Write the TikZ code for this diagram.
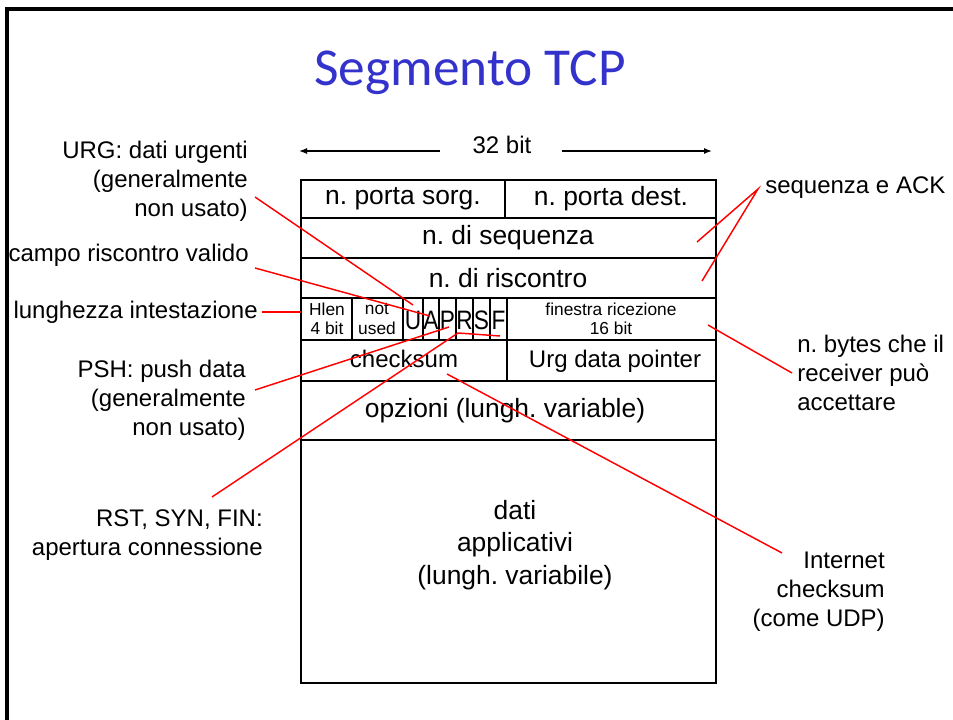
\documentclass[tikz,border=0pt]{standalone}
\usepackage{fontspec}
\setmainfont{Liberation Sans}
\newfontfamily\titlefont{Carlito}
\usetikzlibrary{arrows.meta}
\definecolor{titleblue}{RGB}{51,51,204}
\frenchspacing
\begin{document}
\begin{tikzpicture}[x=0.75pt,y=-0.75pt,
  cell/.style={draw=black,line width=1.5pt},
  lbl/.style={font=\fontsize{18}{21.6}\selectfont,inner sep=0pt},
  big/.style={font=\fontsize{19.8}{23.8}\selectfont,inner sep=0pt},
  small/.style={font=\fontsize{13}{14.3}\selectfont,inner sep=0pt,align=center},
  flag/.style={font=\fontsize{20}{24}\selectfont,inner sep=0pt,xscale=0.85},
  pointer/.style={draw=red,line width=1.1pt},
  dimarrow/.style={line width=1pt,-{Latex[length=6pt,width=4.5pt]}},
]
\useasboundingbox (0,0) rectangle (953,720);
\draw[line width=2.4pt] (7,720) -- (7,9) -- (953,9);

% title
\node[font=\titlefont\fontsize{40}{48}\selectfont, text=titleblue, anchor=base, inner sep=0pt] (title) at (470,86) {Segmento TCP};

% 32 bit
\node[lbl] (bits) at (502,145) {32 bit};
\coordinate (lstart) at (440,151);
\coordinate (lend) at (299,151);
\coordinate (rstart) at (562,151);
\coordinate (rend) at (712,151);
\draw[dimarrow] (lstart) -- (lend);
\draw[dimarrow] (rstart) -- (rend);

% table grid
\draw[cell] (301,180) rectangle (716,683);
\foreach \yy in {218,258,298,340,381,440} \draw[cell] (301,\yy) -- (716,\yy);
\draw[cell] (505,180) -- (505,218);
\foreach \xx in {352,403,423,439,456,473,490,507} \draw[cell] (\xx,298) -- (\xx,340);
\draw[cell] (507,340) -- (507,381);

% cell texts
\node[big] (sorg) at (403,199) {n. porta sorg.};
\node[big] (dest) at (611,199) {n. porta dest.};
\node[big] (seq) at (508,238) {n. di sequenza};
\node[big] (ack) at (508,278) {n. di riscontro};
\node[small] (hlen) at (327,319) {Hlen\\4 bit};
\node[small] (nu) at (377,319) {not\\used};
\node[flag] (fU) at (413,320) {U};
\node[flag] (fA) at (431,320) {A};
\node[flag] (fP) at (447.5,320) {P};
\node[flag] (fR) at (464.5,320) {R};
\node[flag] (fS) at (481.5,320) {S};
\node[flag] (fF) at (498.5,320) {F};
\node[small] (win) at (611,319) {finestra ricezione\\16 bit};
\node[lbl] (cks) at (404,359) {checksum};
\node[lbl] (urgp) at (615,361) {Urg data pointer};
\node[big] (opt) at (505,411) {opzioni (lungh. variable)};
\node[big,align=center,font=\fontsize{19.8}{24.4}\selectfont] (data) at (515,545) {dati\\applicativi\\(lungh. variabile)};

% side labels
\node[lbl,align=right,anchor=east] (urg) at (248,181) {URG: dati urgenti\\(generalmente\\non usato)};
\node[lbl,anchor=east] (campo) at (249,255) {campo riscontro valido};
\node[lbl,anchor=east] (hl) at (258,312) {lunghezza intestazione};
\node[lbl,align=right,anchor=east] (psh) at (246,400) {PSH: push data\\(generalmente\\non usato)};
\node[lbl,align=right,anchor=east] (rst) at (263,535) {RST, SYN, FIN:\\apertura connessione};
\node[lbl,anchor=west] (seqack) at (765,188) {sequenza e ACK};
\node[lbl,align=left,anchor=west] (nbytes) at (797,373) {n. bytes che il\\receiver può\\accettare};
\node[lbl,align=right,anchor=east] (inet) at (885,592) {Internet\\checksum\\(come UDP)};

% pointer coordinates
\coordinate (urgS) at (255,197);   \coordinate (urgE) at (413,305);
\coordinate (campoS) at (255,268); \coordinate (campoE) at (430,316);
\coordinate (hlS) at (262,312);    \coordinate (hlE) at (301,312);
\coordinate (pshS) at (255,390);   \coordinate (pshE) at (449,327);
\coordinate (rstS) at (212,497);   \coordinate (rstM) at (458,333); \coordinate (rstE) at (500,336);
\coordinate (saS) at (758,189);    \coordinate (saE1) at (697,242); \coordinate (saE2) at (702,281);
\coordinate (nbS) at (792,373);    \coordinate (nbE) at (708,325);
\coordinate (inS) at (782,553);    \coordinate (inE) at (447,374);

\draw[pointer] (urgS) -- (urgE);
\draw[pointer] (campoS) -- (campoE);
\draw[pointer] (hlS) -- (hlE);
\draw[pointer] (pshS) -- (pshE);
\draw[pointer] (rstS) -- (rstM) -- (rstE);
\draw[pointer] (saE1) -- (saS) -- (saE2);
\draw[pointer] (nbS) -- (nbE);
\draw[pointer] (inS) -- (inE);
\end{tikzpicture}
\end{document}
